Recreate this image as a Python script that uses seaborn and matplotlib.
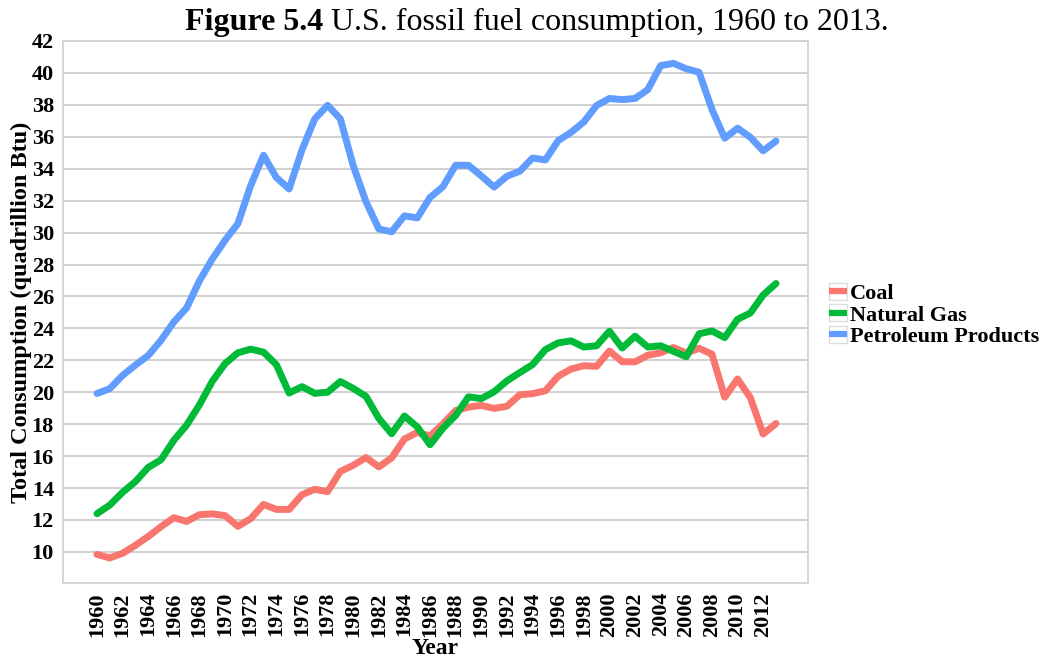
import pandas as pd
import matplotlib
matplotlib.use("Agg")
import matplotlib.pyplot as plt
from matplotlib.patches import Patch
from matplotlib.legend_handler import HandlerTuple
import seaborn as sns

# Consumo anual (quadrillion Btu)
anos = list(range(1960, 2014))
carvao = [9.84, 9.62, 9.91, 10.41, 10.96, 11.58, 12.14, 11.91, 12.33, 12.38,
          12.27, 11.60, 12.08, 12.97, 12.66, 12.66, 13.58, 13.92, 13.77, 15.04,
          15.42, 15.91, 15.32, 15.89, 17.07, 17.48, 17.26, 18.01, 18.85, 19.07,
          19.17, 18.99, 19.12, 19.84, 19.91, 20.09, 21.00, 21.45, 21.66, 21.62,
          22.58, 21.91, 21.90, 22.32, 22.47, 22.80, 22.45, 22.75, 22.39, 19.69,
          20.83, 19.66, 17.38, 18.04]
gas_natural = [12.39, 12.93, 13.73, 14.40, 15.29, 15.77, 16.99, 17.94, 19.21, 20.68,
               21.79, 22.47, 22.70, 22.51, 21.73, 19.95, 20.35, 19.93, 20.00, 20.67,
               20.24, 19.74, 18.36, 17.40, 18.51, 17.83, 16.71, 17.74, 18.55, 19.71,
               19.60, 20.03, 20.71, 21.23, 21.73, 22.67, 23.09, 23.22, 22.83, 22.91,
               23.82, 22.77, 23.51, 22.83, 22.91, 22.56, 22.22, 23.66, 23.84, 23.42,
               24.57, 24.96, 26.09, 26.81]
petroleo = [19.92, 20.22, 21.05, 21.70, 22.30, 23.25, 24.40, 25.28, 26.98, 28.34,
            29.52, 30.56, 32.95, 34.84, 33.45, 32.73, 35.17, 37.12, 37.97, 37.12,
            34.20, 31.93, 30.23, 30.05, 31.05, 30.92, 32.20, 32.87, 34.22, 34.21,
            33.55, 32.85, 33.53, 33.84, 34.67, 34.55, 35.76, 36.27, 36.93, 37.96,
            38.40, 38.33, 38.40, 38.96, 40.46, 40.60, 40.26, 40.04, 37.72, 35.91,
            36.54, 35.97, 35.12, 35.73]
combustiveis = ["Coal", "Natural Gas", "Petroleum Products"]
cores = ["#F8766D", "#00BA38", "#619CFF"]
ticks_x = list(range(1960, 2013, 2))
ticks_y = list(range(10, 43, 2))

df = pd.DataFrame({
    "Year": anos * 3,
    "Consumo": carvao + gas_natural + petroleo,
    "Fuel": [c for c in combustiveis for _ in anos],
})

sns.set_style("whitegrid")
plt.rcParams["font.family"] = ["Liberation Serif", "DejaVu Serif"]
plt.rcParams["text.color"] = "black"
plt.rcParams["axes.labelcolor"] = "black"
plt.rcParams["xtick.color"] = "black"
plt.rcParams["ytick.color"] = "black"

fig = plt.figure(figsize=(10.46, 6.61), dpi=100)
ax = fig.add_axes([63 / 1046, 1 - 583 / 661, (808 - 63) / 1046, (583 - 41) / 661])

sns.lineplot(data=df, x="Year", y="Consumo", hue="Fuel", hue_order=combustiveis,
             palette=cores, linewidth=5, ax=ax, legend=False)

ax.set_xlim(1957.35, 2015.5)
ax.set_ylim(8.05, 42)
ax.set_xticks(ticks_x)
ax.set_xticklabels([str(t) for t in ticks_x], rotation=90, fontsize=16, fontweight="bold")
ax.set_yticks(ticks_y)
ax.set_yticklabels([str(t) for t in ticks_y], fontsize=16, fontweight="bold")
ax.tick_params(axis="both", length=5, width=1, color="#999999", pad=1.5)
ax.grid(axis="x", visible=False)
ax.grid(axis="y", color="#C8C8C8", linewidth=1.2)
for s in ax.spines.values():
    s.set_color("#D0D0D0")
    s.set_linewidth(1.2)

ax.set_xlabel("Year", fontsize=17, fontweight="bold", labelpad=1)
ax.set_ylabel("Total Consumption (quadrillion Btu)", fontsize=17.5, fontweight="bold", labelpad=0)

# Legenda com caixinha cinza em cada chave
handles = [(Patch(facecolor="white", edgecolor="#DDDDDD", linewidth=1),
            plt.Line2D([], [], color=c, linewidth=4.5, solid_capstyle="butt"))
           for c in cores]
fig.legend(handles, combustiveis, loc="center left",
           bbox_to_anchor=(818 / 1046, 1 - 315 / 661),
           handler_map={tuple: HandlerTuple(ndivide=1)},
           frameon=False, handlelength=0.8, handleheight=0.8, handletextpad=0.15,
           labelspacing=0.0, borderpad=0,
           prop={"family": "Liberation Serif", "weight": "bold", "size": 16})

# Título com parte em negrito
t1 = fig.text(185 / 1046, 1 - 30 / 661, "Figure 5.4", fontsize=23, fontweight="bold",
              ha="left", va="baseline")
ax.annotate(" U.S. fossil fuel consumption, 1960 to 2013.", xy=(1, 0), xycoords=t1,
            fontsize=23, ha="left", va="bottom", annotation_clip=False)

fig.savefig("out.png", dpi=100)
